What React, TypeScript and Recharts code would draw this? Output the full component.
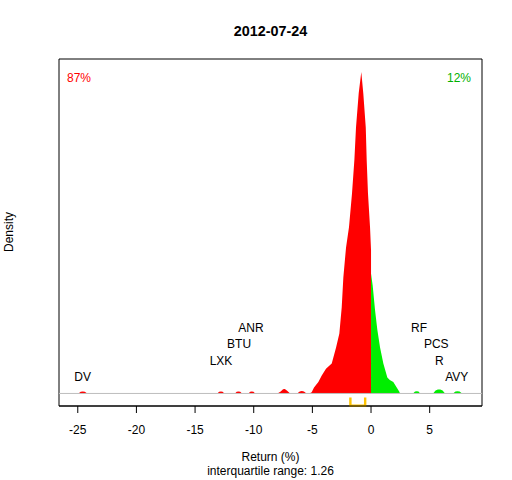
import React from "react";
import {
  ComposedChart,
  Area,
  Line,
  Scatter,
  XAxis,
  YAxis,
  ReferenceLine,
  ReferenceArea,
} from "recharts";

// ---- data ----
const xTicks = [-25, -20, -15, -10, -5, 0, 5];
const xDomain = [-26.6, 9.46];
const yDomain = [-0.0188, 0.5014];

// density of returns below zero (x, density)
const redDensity: [number, number][] = [
  [-24.95, 0], [-24.75, 0.0024], [-24.58, 0.003], [-24.4, 0.0024], [-24.2, 0],
  [-13.1, 0], [-12.95, 0.0024], [-12.79, 0.003], [-12.65, 0.0024], [-12.5, 0],
  [-11.6, 0], [-11.45, 0.0024], [-11.31, 0.003], [-11.15, 0.0024], [-11.0, 0],
  [-10.45, 0], [-10.3, 0.0024], [-10.17, 0.003], [-10.02, 0.0024], [-9.88, 0],
  [-7.98, 0], [-7.7, 0.003], [-7.5, 0.0062], [-7.35, 0.0065], [-7.15, 0.004], [-6.9, 0],
  [-6.3, 0], [-6.08, 0.003], [-5.9, 0.0037], [-5.72, 0.003], [-5.5, 0],
  [-5.26, 0], [-5.06, 0.002], [-4.86, 0.009], [-4.49, 0.017], [-4.2, 0.027],
  [-3.84, 0.037], [-3.35, 0.045], [-2.98, 0.069], [-2.7, 0.09], [-2.5, 0.129],
  [-2.36, 0.174], [-2.13, 0.219], [-1.88, 0.249], [-1.62, 0.3], [-1.42, 0.35],
  [-1.28, 0.399], [-1.05, 0.45], [-0.83, 0.482], [-0.66, 0.45], [-0.45, 0.399],
  [-0.37, 0.35], [-0.26, 0.3], [-0.085, 0.249], [0, 0.215],
];

// density of returns above zero (x, density)
const greenDensity: [number, number][] = [
  [0, 0.18], [0.14, 0.162], [0.34, 0.125], [0.54, 0.095], [0.77, 0.069],
  [1.05, 0.045], [1.39, 0.024], [1.6, 0.02], [1.9, 0.017], [2.19, 0.009],
  [2.4, 0.003], [2.47, 0],
  [3.58, 0], [3.75, 0.0028], [3.9, 0.0035], [4.05, 0.0028], [4.18, 0],
  [5.29, 0], [5.5, 0.0045], [5.7, 0.006], [5.9, 0.006], [6.1, 0.0045], [6.31, 0],
  [6.99, 0], [7.2, 0.0028], [7.36, 0.0035], [7.55, 0.0028], [7.76, 0],
];

const tickers = ["DV", "LXK", "BTU", "ANR", "RF", "PCS", "R", "AVY"];
const tickerReturns = [-24.58, -12.79, -11.25, -10.23, 4.09, 5.56, 5.82, 7.31];
const tickerLevels = [1, 2, 3, 4, 4, 3, 2, 1];
const levelStep = 0.0245;

const quartiles = [-1.76, -0.5];
const bracketTop = -0.006;
const bracketBottom = -0.0182;

const title = "2012-07-24";
const shareLabels = ["87%", "12%"];
const xLabel = "Return (%)";
const iqrLabel = "interquartile range: 1.26";
const yLabel = "Density";

// ---- tables built for the library ----
const redData = redDensity.map(([x, d]) => ({ x, d }));
const greenData = greenDensity.map(([x, d]) => ({ x, d }));
const labelData = tickers.map((name, i) => ({
  x: tickerReturns[i],
  y: tickerLevels[i] * levelStep,
  name,
}));
const bracketData = [
  { x: quartiles[0], y: bracketTop },
  { x: quartiles[0], y: bracketBottom },
  { x: quartiles[1], y: bracketBottom },
  { x: quartiles[1], y: bracketTop },
];

const FONT = "'Liberation Sans', Arial, sans-serif";

const TickerLabel = (props: any) => {
  const { cx, cy, payload } = props;
  return (
    <text
      x={cx}
      y={cy}
      textAnchor="middle"
      dominantBaseline="central"
      fontSize={12}
      fontFamily={FONT}
      fill="#000"
    >
      {payload.name}
    </text>
  );
};

export default function App() {
  return (
    <div style={{ position: "absolute", left: 0, top: 0, width: 512, height: 480, background: "#fff" }}>
      <ComposedChart
        width={512}
        height={480}
        margin={{ top: 59, right: 30, bottom: 44, left: 59 }}
        style={{ fontFamily: FONT }}
      >
        <XAxis
          type="number"
          dataKey="x"
          domain={xDomain}
          ticks={xTicks}
          interval={0}
          height={30}
          tickSize={7}
          tickMargin={12}
          axisLine={{ stroke: "#000" }}
          tickLine={{ stroke: "#000" }}
          tick={{ fill: "#000", fontSize: 12, fontFamily: FONT }}
        />
        <YAxis type="number" domain={yDomain} hide />
        <ReferenceLine y={0} stroke="#BEBEBE" strokeWidth={1} />
        <Area
          data={redData}
          dataKey="d"
          type="linear"
          baseValue={0}
          fill="#FF0000"
          fillOpacity={1}
          stroke="none"
          isAnimationActive={false}
          dot={false}
          activeDot={false}
        />
        <Area
          data={greenData}
          dataKey="d"
          type="linear"
          baseValue={0}
          fill="#00EE00"
          fillOpacity={1}
          stroke="none"
          isAnimationActive={false}
          dot={false}
          activeDot={false}
        />
        <Line
          data={bracketData}
          dataKey="y"
          type="linear"
          stroke="#FFC400"
          strokeWidth={2.4}
          dot={false}
          activeDot={false}
          isAnimationActive={false}
        />
        <Scatter
          data={labelData}
          dataKey="y"
          shape={<TickerLabel />}
          isAnimationActive={false}
        />
        <ReferenceArea
          x1={xDomain[0]}
          x2={xDomain[1]}
          y1={yDomain[0]}
          y2={yDomain[1]}
          fill="none"
          fillOpacity={0}
          stroke="#000"
          strokeWidth={1}
        />
        <text x={270.5} y={36} textAnchor="middle" fontSize={14.4} fontWeight="bold" fontFamily={FONT} fill="#000">
          {title}
        </text>
        <text x={67} y={81.5} textAnchor="start" fontSize={12} fontFamily={FONT} fill="#FF0000">
          {shareLabels[0]}
        </text>
        <text x={471} y={81.5} textAnchor="end" fontSize={12} fontFamily={FONT} fill="#00B000">
          {shareLabels[1]}
        </text>
        <text x={270.5} y={461} textAnchor="middle" fontSize={12} fontFamily={FONT} fill="#000">
          {xLabel}
        </text>
        <text x={270.5} y={475} textAnchor="middle" fontSize={12} fontFamily={FONT} fill="#000">
          {iqrLabel}
        </text>
        <text
          x={13}
          y={232}
          textAnchor="middle"
          fontSize={12}
          fontFamily={FONT}
          fill="#000"
          transform="rotate(-90 13 232)"
        >
          {yLabel}
        </text>
      </ComposedChart>
    </div>
  );
}
